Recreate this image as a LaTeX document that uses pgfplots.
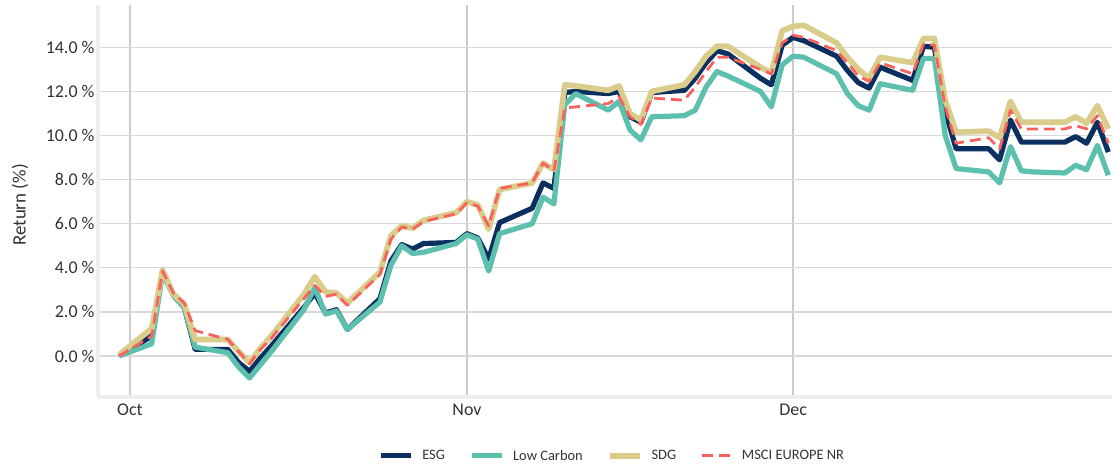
\documentclass[border=0pt]{standalone}
\usepackage{fontspec}
\setmainfont{Carlito}
\usepackage{pgfplots}
\pgfplotsset{compat=1.18}
\usepackage{pgfplotstable}

\definecolor{esg}{HTML}{0B2F5E}
\definecolor{lowc}{HTML}{5DBFAE}
\definecolor{sdg}{HTML}{DACD8C}
\definecolor{msci}{HTML}{F8625C}
\definecolor{txt}{HTML}{333333}

\pgfplotstableread{
d esg lc sdg msci
-1 0.0 0.0 0.05 0.0
2 0.9 0.55 1.25 0.9
3 3.85 3.75 3.9 3.85
4 2.75 2.75 2.8 2.85
5 2.2 2.2 2.35 2.4
6 0.3 0.4 0.75 1.15
9 0.3 0.15 0.75 0.75
10 -0.3 -0.5 0.2 0.2
11 -0.7 -1.0 -0.3 -0.35
12 -0.1 -0.4 0.35 0.3
13 0.45 0.2 0.9 0.8
16 2.2 2.1 2.8 2.6
17 2.85 3.1 3.6 3.2
18 1.95 1.9 2.9 2.7
19 2.1 2.05 2.85 2.8
20 1.2 1.2 2.4 2.3
23 2.6 2.45 3.8 3.7
24 4.3 4.1 5.45 5.3
25 5.05 5.0 5.9 5.85
26 4.85 4.65 5.8 5.75
27 5.1 4.7 6.15 6.1
30 5.15 5.1 6.5 6.45
31 5.55 5.5 7.0 6.95
32 5.35 5.3 6.85 6.8
33 4.4 3.85 5.75 5.9
34 6.05 5.55 7.55 7.6
37 6.7 6.0 7.85 7.85
38 7.85 7.2 8.75 8.75
39 7.6 6.9 8.45 8.4
40 11.95 11.4 12.3 11.25
41 12.0 11.9 12.25 11.3
44 11.9 11.15 12.05 11.45
45 12.0 11.55 12.25 11.75
46 10.85 10.25 11.0 10.85
47 10.6 9.8 10.7 10.5
48 11.95 10.85 12.0 11.7
51 12.05 10.9 12.3 11.6
52 12.6 11.15 12.9 12.2
53 13.3 12.2 13.6 12.9
54 13.85 12.9 14.05 13.55
55 13.7 12.7 14.05 13.55
58 12.6 12.0 13.1 13.0
59 12.3 11.3 12.85 12.8
60 14.1 13.2 14.75 14.2
61 14.45 13.6 14.95 14.55
62 14.3 13.55 15.0 14.45
65 13.6 12.8 14.2 13.85
66 12.95 11.9 13.55 13.3
67 12.4 11.35 13.0 12.7
68 12.15 11.15 12.6 12.45
69 13.1 12.35 13.55 13.3
72 12.5 12.05 13.3 12.8
73 14.05 13.5 14.4 14.15
74 14.0 13.5 14.4 14.1
75 11.1 10.0 11.6 11.3
76 9.4 8.5 10.15 9.65
79 9.4 8.35 10.2 9.9
80 8.9 7.85 9.9 9.4
81 10.7 9.5 11.55 11.15
82 9.7 8.4 10.6 10.3
83 9.7 8.35 10.6 10.3
86 9.7 8.3 10.6 10.3
87 9.95 8.65 10.85 10.45
88 9.65 8.45 10.55 10.3
89 10.6 9.55 11.35 10.9
90 9.25 8.2 10.3 9.65
}\data

\begin{document}
\begin{tikzpicture}
\begin{axis}[
  name=ax,
  scale only axis,
  width=1014bp, height=392bp,
  xmin=-2.94, xmax=90.34,
  ymin=-1.86, ymax=15.92,
  axis x line*=bottom, axis y line*=left,
  axis line style={-, draw=gray!13, line width=4bp},
  xtick={0,31,61}, xticklabels={Oct,Nov,Dec},
  ytick={0,2,...,14},
  major tick length=0pt,
  tick style={draw=none},
  xmajorgrids, ymajorgrids,
  x grid style={gray!40, line width=1.3bp},
  y grid style={gray!30, line width=1.3bp},
  tick label style={font=\fontsize{18}{20}\selectfont, text=txt},
  xticklabel style={yshift=-3bp},
  /pgf/number format/assume math mode=true,
  yticklabel={\pgfmathprintnumber[fixed,fixed zerofill,precision=1]{\tick}~\%},
  ylabel={Return (\%)},
  ylabel style={at={(axis description cs:-0.077,0.49)}, anchor=center, font=\fontsize{19}{21}\selectfont, text=txt},
  legend columns=4,
  legend style={at={(axis description cs:0.507,-0.150)}, anchor=center, draw=none, fill=none,
    font=\fontsize{14.5}{16}\selectfont, text=txt,
    /tikz/every even column/.append style={column sep=22bp}},
  legend image code/.code={\draw[#1] (0bp,0bp) -- (30bp,0bp); \path (37bp,0bp);},
  every axis plot/.append style={line join=round},
]
\addplot[esg, line width=5.2bp] table[x=d, y=esg] {\data};
\addlegendentry{ESG}
\addplot[lowc, line width=5.2bp] table[x=d, y=lc] {\data};
\addlegendentry{Low Carbon}
\addplot[sdg, line width=5.7bp] table[x=d, y=sdg] {\data};
\addlegendentry{SDG}
\addplot[msci, line width=2.8bp, dash pattern=on 11bp off 6bp] table[x=d, y=msci] {\data};
\addlegendentry{MSCI EUROPE NR}
\end{axis}
\pgfresetboundingbox
\path ([shift={(-98bp,-69bp)}]ax.south west) rectangle ([shift={(0bp,5bp)}]ax.north east);
\end{tikzpicture}
\end{document}
